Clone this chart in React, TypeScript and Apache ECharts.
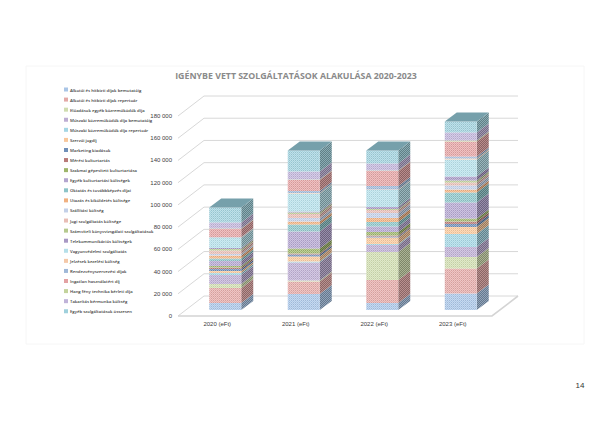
import React, { useEffect, useRef } from "react";
import * as echarts from "echarts";

const titleText = "IGÉNYBE VETT SZOLGÁLTATÁSOK ALAKULÁSA 2020-2023";
const categories = ["2020 (eFt)", "2021 (eFt)", "2022 (eFt)", "2023 (eFt)"];
const valueTicks = [0, 20000, 40000, 60000, 80000, 100000, 120000, 140000, 160000, 180000];
const seriesNames = [
  "Alkotói és hitbizti díjak bemutatóig",
  "Alkotói és hitbizti díjak repertoár",
  "Előadások egyéb közreműködők díja",
  "Műszaki közreműködők díja bemutatóig",
  "Műszaki közreműködők díja repertoár",
  "Szerzői jogdíj",
  "Marketing kiadások",
  "Mérési kulturtartás",
  "Szakmai gépesített kulturtartása",
  "Egyéb kulturtartási költségek",
  "Oktatás és továbbképzés díjai",
  "Utazás és kiküldetés költsége",
  "Szállítási költség",
  "Jogi szolgáltatás költsége",
  "Számviteli könyvvizsgálati szolgáltatások",
  "Telekommunikációs költségek",
  "Vagyonvédelmi szolgáltatás",
  "Jelzések kezelési költség",
  "Rendezvényszervezési díjak",
  "Ingatlan használatért díj",
  "Hang fény technika bérleti díja",
  "Takarítás bérmunka költség",
  "Egyéb szolgáltatások összesen",
];
const values2020 = [6300, 13500, 3600, 8100, 1800, 1800, 1800, 1350, 1350, 4500, 2250, 2700, 1350, 3150, 1350, 900, 9000, 450, 450, 7200, 450, 5400, 13500];
const values2021 = [14400, 11250, 900, 16200, 900, 4500, 1800, 900, 4500, 15300, 6300, 2700, 3150, 3600, 1350, 900, 16200, 450, 1800, 9900, 450, 7200, 18900];
const values2022 = [6300, 20700, 25200, 6300, 900, 5850, 900, 900, 3150, 4950, 4050, 3600, 4500, 2700, 900, 1800, 15300, 450, 3150, 13500, 450, 6300, 11700];
const values2023 = [14850, 22500, 10350, 9000, 11700, 6300, 2700, 2250, 2700, 14400, 9000, 2700, 3600, 2700, 1800, 3600, 15300, 900, 1800, 13500, 900, 7200, 9900];
const yearValues = [values2020, values2021, values2022, values2023];
const colors = [
  "#a9c5e6", "#e3a9a7", "#cfdcaf", "#bdadd3", "#a4d6e4", "#f8c79b",
  "#6f8fb8", "#b87a78", "#9db56a", "#b3a5cf", "#8cc4c8", "#f0b080",
  "#c3d0e8", "#e8bdb5", "#b5c98e", "#a898c4", "#b5dfe9", "#f4c8a8",
  "#9fb8d8", "#e3a2a3", "#c3d39c", "#c0b3d9", "#9fd0dc",
];

const hexToRgb = (h: string) => [1, 3, 5].map((i) => parseInt(h.slice(i, i + 2), 16));
const patternCache: Record<string, any> = {};
function pattern(hex: string, k: number) {
  const key = hex + k;
  if (patternCache[key]) return patternCache[key];
  const c = document.createElement("canvas");
  c.width = 4;
  c.height = 4;
  const g = c.getContext("2d")!;
  const [r, gr, b] = hexToRgb(hex);
  const tint = (white: number, m: number) => {
    const f = (v: number) => Math.round(Math.min(255, (v * (1 - white) + 255 * white) * m));
    return `rgb(${f(r * k)},${f(gr * k)},${f(b * k)})`;
  };
  for (let y = 0; y < 4; y++) {
    for (let x = 0; x < 4; x++) {
      if (k < 1) {
        g.fillStyle = (x + y) % 2 === 0 ? tint(0.1, 1) : tint(0, 0.78);
      } else {
        g.fillStyle = (x + y) % 2 === 0 ? tint(0.35, 1) : y % 2 === 0 ? tint(0, 0.94) : tint(0.05, 1);
      }
      g.fillRect(x, y, 1, 1);
    }
  }
  const p = { image: c.toDataURL(), repeat: "repeat", imageWidth: 4, imageHeight: 4 };
  patternCache[key] = p;
  return p;
}

const WALL_DX = 26;
const WALL_DY = -20;
const BAR_SHIFT_X = 8;
const BAR_SHIFT_Y = -6;
const BAR_W = 32;
const BAR_DX = 12;
const BAR_DY = -9;

export default function App() {
  const ref = useRef<HTMLDivElement>(null);
  useEffect(() => {
    const chart = echarts.init(ref.current!, undefined, { renderer: "svg" });

    const wallSeries: any = {
      type: "custom",
      name: "wall",
      silent: true,
      z: 1,
      data: valueTicks.map((v) => [0, v]),
      encode: { x: 0, y: 1 },
      renderItem: (params: any, api: any) => {
        const cs = params.coordSys;
        const y = api.coord([0, api.value(1)])[1];
        const x0 = cs.x;
        const x1 = cs.x + cs.width;
        const children: any[] = [
          {
            type: "polyline",
            shape: { points: [[x0, y], [x0 + WALL_DX, y + WALL_DY], [x1 + WALL_DX, y + WALL_DY]] },
            style: { fill: "none", stroke: "#d8d8d8", lineWidth: 1 },
          },
        ];
        if (api.value(1) === 0) {
          children.push({
            type: "polyline",
            shape: { points: [[x0, y], [x1, y], [x1 + WALL_DX, y + WALL_DY]] },
            style: { fill: "none", stroke: "#d4d4d4", lineWidth: 1.6 },
          });
        }
        return { type: "group", children };
      },
    };

    const barSeries: any[] = seriesNames.map((name, si) => ({
      type: "custom",
      name,
      z: 2,
      itemStyle: { color: colors[si] },
      encode: { x: 0, y: [1, 2] },
      data: categories.map((_, ci) => {
        const base = yearValues[ci].slice(0, si).reduce((a, b) => a + b, 0);
        return [ci, base, base + yearValues[ci][si]];
      }),
      renderItem: (_p: any, api: any) => {
        const ci = api.value(0);
        const bottom = api.coord([ci, api.value(1)]);
        const top = api.coord([ci, api.value(2)]);
        const xl = bottom[0] + BAR_SHIFT_X - BAR_W / 2;
        const xr = xl + BAR_W;
        const yb = bottom[1] + BAR_SHIFT_Y;
        const yt = top[1] + BAR_SHIFT_Y;
        const children: any[] = [
          {
            type: "polygon",
            shape: { points: [[xr, yb], [xr + BAR_DX, yb + BAR_DY], [xr + BAR_DX, yt + BAR_DY], [xr, yt]] },
            style: { fill: pattern(colors[si], 0.78) },
          },
          {
            type: "rect",
            shape: { x: xl, y: yt, width: BAR_W, height: yb - yt },
            style: { fill: pattern(colors[si], 1) },
          },
        ];
        if (si === seriesNames.length - 1) {
          children.push({
            type: "polygon",
            shape: { points: [[xl, yt], [xr, yt], [xr + BAR_DX, yt + BAR_DY], [xl + BAR_DX, yt + BAR_DY]] },
            style: { fill: "#76a0ab" },
          });
        }
        return { type: "group", children };
      },
    }));

    chart.setOption({
      animation: false,
      backgroundColor: "#ffffff",
      title: {
        text: titleText,
        left: 291,
        top: 66,
        textAlign: "center",
        textStyle: { fontFamily: "Open Sans", fontSize: 8.8, fontWeight: "bold", color: "#8a8a8a" },
      },
      grid: { left: 178, top: 116, width: 314, height: 200 },
      legend: {
        data: seriesNames,
        orient: "vertical",
        left: 64,
        top: 86.5,
        itemWidth: 4,
        itemHeight: 4,
        itemGap: 4.08,
        icon: "rect",
        selectedMode: false,
        padding: 0,
        textStyle: {
          fontFamily: "Open Sans",
          fontSize: 4.25,
          lineHeight: 6,
          fontWeight: 600,
          color: "#404040",
          padding: [0, 0, 0, -3],
        },
      },
      xAxis: {
        type: "category",
        data: categories,
        axisLine: { show: false },
        axisTick: { show: false },
        axisLabel: { fontFamily: "Liberation Sans", fontSize: 6, color: "#404040", margin: 5 },
      },
      yAxis: {
        type: "value",
        min: 0,
        max: 180000,
        interval: 20000,
        splitLine: { show: false },
        axisLine: { show: false },
        axisTick: { show: false },
        axisLabel: {
          fontFamily: "Liberation Sans",
          fontSize: 6,
          color: "#404040",
          margin: 6,
          formatter: (v: number) => String(v).replace(/\B(?=(\d{3})+$)/g, " "),
        },
      },
      graphic: [
        {
          type: "rect",
          silent: true,
          z: -1,
          shape: { x: 26, y: 66, width: 558, height: 278 },
          style: { fill: "none", stroke: "#f6f6f6", lineWidth: 1 },
        },
        {
          type: "text",
          x: 580,
          y: 385,
          style: {
            text: "14",
            fontFamily: "Liberation Sans",
            fontSize: 8,
            fill: "#333333",
            textAlign: "center",
            textVerticalAlign: "middle",
          },
        },
      ],
      series: [wallSeries, ...barSeries],
    });
    return () => chart.dispose();
  }, []);
  return <div ref={ref} style={{ position: "absolute", left: 0, top: 0, width: 605, height: 428 }} />;
}
